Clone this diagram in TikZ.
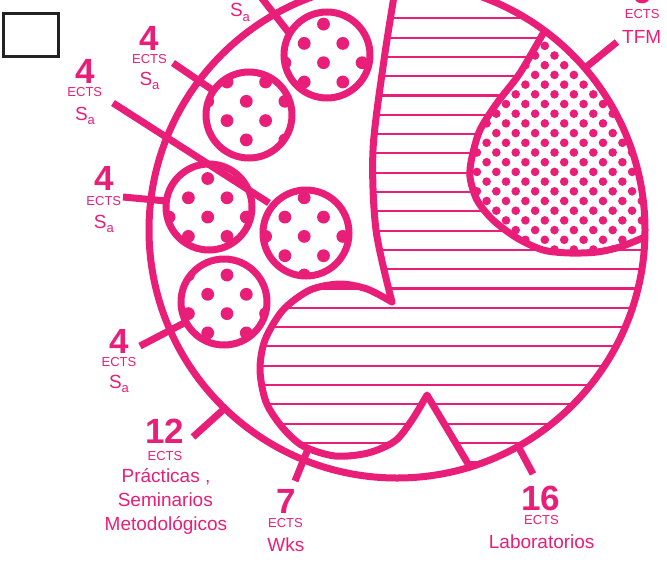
\documentclass[tikz,border=0pt]{standalone}
\usepackage{fontspec}
\setmainfont{Liberation Sans}
\definecolor{pk}{HTML}{E91E78}
\definecolor{boxgray}{HTML}{222222}
\newcommand{\SubA}{S\raisebox{-4.5pt}{\fontsize{13}{13}\selectfont a}}
\tikzset{
  pkline/.style={draw=pk, line width=7pt, line join=round},
  hatchln/.style={draw=pk, line width=2.1pt},
  numtxt/.style={font=\fontsize{35}{35}\selectfont\bfseries, text=pk, inner sep=0pt, anchor=base},
  ectstxt/.style={font=\fontsize{13}{13}\selectfont, text=pk, inner sep=0pt, anchor=base},
  lbltxt/.style={font=\fontsize{19}{19}\selectfont, text=pk, inner sep=0pt, anchor=base},
  smallc/.style={draw=pk, line width=7pt, circle, minimum size=86pt, inner sep=0pt},
}
\begin{document}
\begin{tikzpicture}[x=1pt,y=-1pt]
\useasboundingbox (0,0) rectangle (667,563);
% ---------- hatched regions ----------
\begin{scope}
  \clip (397,230) circle (248);
  \clip (397,-40) -- plot[smooth] coordinates {(397,-22) (384,60) (373,150) (376,230) (392,302)}
        -- plot[smooth] coordinates {(392,302) (367,289) (340,284) (310,290) (283,310) (265,340) (260,370) (266,402) (282,427) (303,446) (335,456) (368,453) (395,441) (412,420) (427,395)}
        -- (482,486) -- (700,486) -- (700,-40) -- cycle;
  \foreach \k in {-1,...,24} { \draw[hatchln] (100,{18.3+19.3*\k}) -- (700,{18.3+19.3*\k}); }
\end{scope}
% ---------- TFM dotted region ----------
\begin{scope}
  \clip (397,230) circle (248);
  \clip plot[smooth] coordinates {(545,30) (520,73) (497,103) (480,130) (472,157) (470,177) (477,200) (493,220) (517,238) (543,250) (570,253) (597,252) (620,247) (645,237)}
        -- (690,236) -- (690,-40) -- (545,-40) -- cycle;
  \fill[white] (440,-20) rectangle (690,290);
  \foreach \j in {-9,...,17} {
    \pgfmathsetmacro\yy{104+9.7*\j}
    \pgfmathsetmacro\off{mod(\j+100,2)*9.7}
    \foreach \i in {-3,...,8} { \fill[pk] ({506+19.4*\i+\off},\yy) circle (4.3); }
  }
\end{scope}
\draw[pkline] plot[smooth] coordinates {(545,30) (520,73) (497,103) (480,130) (472,157) (470,177) (477,200) (493,220) (517,238) (543,250) (570,253) (597,252) (620,247) (645,237)};
% ---------- big circle ----------
\draw[pkline] (397,230) circle (248);
% ---------- left boundary + lobe ----------
\draw[pkline, line cap=round] plot[smooth] coordinates {(397,-22) (384,60) (373,150) (376,230) (392,302)}
      -- plot[smooth] coordinates {(392,302) (367,289) (340,284) (310,290) (283,310) (265,340) (260,370) (266,402) (282,427) (303,446) (335,456) (368,453) (395,441) (412,420) (427,395)}
      -- (470,467);
% ---------- small dotted circles ----------
\begin{scope}
  \clip (327,55) circle (43) (249,115) circle (43) (209,207) circle (43) (306,233) circle (43) (224,302) circle (43);
  \fill[white] (150,0) rectangle (380,350);
  \foreach \j in {-5,...,14} {
    \pgfmathsetmacro\yy{82+19.3*\j}
    \pgfmathsetmacro\off{mod(\j+100,2)*19.3}
    \foreach \i in {-2,...,4} { \fill[pk] ({227+38.6*\i+\off},\yy) circle (6.4); }
  }
\end{scope}
\node[smallc] (c1) at (327,55) {};
\node[smallc] (c2) at (249,115) {};
\node[smallc] (c3) at (209,207) {};
\node[smallc] (c4) at (306,233) {};
\node[smallc] (c5) at (224,302) {};
% ---------- pointer coordinates ----------
\coordinate (p1a) at (257,-8);   \coordinate (p1b) at (289,33);
\coordinate (p2a) at (173,63);   \coordinate (p2b) at (211,89);
\coordinate (p3a) at (113,103);  \coordinate (p3b) at (269,203);
\coordinate (p4a) at (123,197);  \coordinate (p4b) at (166,201);
\coordinate (p5a) at (140,346);  \coordinate (p5b) at (186,322);
\coordinate (p12a) at (193,437); \coordinate (p12b) at (224,409);
\coordinate (p7a) at (308,449);  \coordinate (p7b) at (295,481);
\coordinate (p16a) at (518,446); \coordinate (p16b) at (533,474);
\coordinate (pta) at (585,68);   \coordinate (ptb) at (617,42);
\foreach \a/\b in {p1a/p1b,p2a/p2b,p3a/p3b,p4a/p4b,p5a/p5b,p12a/p12b,p7a/p7b,p16a/p16b,pta/ptb}
  \draw[pkline] (\a) -- (\b);
% ---------- labels ----------
\node[lbltxt] (s1) at (240,16.7) {\SubA};
\node[numtxt] (n2) at (149.5,50) {4};
\node[ectstxt] (e2) at (149.5,63.3) {ECTS};
\node[lbltxt] (s2) at (149.5,85) {\SubA};
\node[numtxt] (n3) at (84.8,83.3) {4};
\node[ectstxt] (e3) at (84.8,96.7) {ECTS};
\node[lbltxt] (s3) at (85,120) {\SubA};
\node[numtxt] (n4) at (103.8,190) {4};
\node[ectstxt] (e4) at (103.8,205.7) {ECTS};
\node[lbltxt] (s4) at (103.8,228.3) {\SubA};
\node[numtxt] (n5) at (118.8,353.3) {4};
\node[ectstxt] (e5) at (119,366.7) {ECTS};
\node[lbltxt] (s5) at (119,388.3) {\SubA};
\node[numtxt] (n12) at (165,443.3) {12};
\node[ectstxt] (e12) at (165,460) {ECTS};
\node[lbltxt] (l12a) at (166,482) {Prácticas ,};
\node[lbltxt] (l12b) at (165.3,506.5) {Seminarios};
\node[lbltxt] (l12c) at (166,530) {Metodológicos};
\node[numtxt] (n7) at (285.8,513.3) {7};
\node[ectstxt] (e7) at (285.5,527.3) {ECTS};
\node[lbltxt] (l7) at (285.8,551.5) {Wks};
\node[numtxt] (n16) at (541,510.7) {16};
\node[ectstxt] (e16) at (541.5,524) {ECTS};
\node[lbltxt] (l16) at (541.7,548.5) {Laboratorios};
\node[numtxt] (nt) at (642,3) {6};
\node[ectstxt] (et) at (642.2,18.3) {ECTS};
\node[lbltxt] (lt) at (641.7,43.3) {TFM};
% ---------- small box ----------
\node[draw=boxgray, line width=2.8pt, minimum width=55pt, minimum height=43pt, inner sep=0pt] (box) at (31,35) {};
\end{tikzpicture}
\end{document}
